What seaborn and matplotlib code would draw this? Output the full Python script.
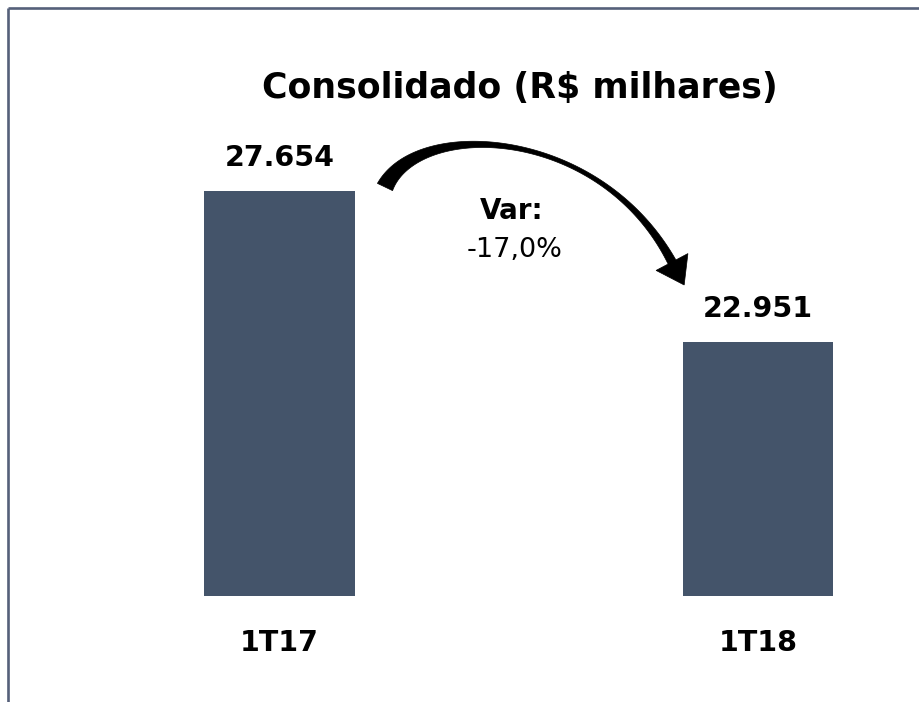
import numpy as np
import pandas as pd
import matplotlib
matplotlib.use("Agg")
import matplotlib.pyplot as plt
import seaborn as sns
from matplotlib.patches import Polygon
from matplotlib.lines import Line2D

# ---- data ----
categories = ["1T17", "1T18"]
values = [27654, 22951]
value_labels = ["27.654", "22.951"]
title_text = "Consolidado (R$ milhares)"
var_title = "Var:"
var_value = "-17,0%"

BAR_COLOR = "#44546A"
FRAME_COLOR = "#55607A"

sns.set_theme(style="white")
plt.rcParams['font.family'] = ['DejaVu Sans']

W, H = 920, 702
fig = plt.figure(figsize=(W / 100, H / 100), dpi=100)
fig.patch.set_facecolor("white")

def fx(px):
    return px / W

def fy(py):
    return 1 - py / H

ax = fig.add_axes([0.04359, fy(596), 0.9367, 0.75])
df = pd.DataFrame({"cat": categories, "val": values})
sns.barplot(data=df, x="cat", y="val", color=BAR_COLOR, saturation=1,
            width=0.314, ax=ax, edgecolor="none")
ax.set_xlim(-0.5, 1.3)
ax.set_ylim(15000, 31450)
ax.bar_label(ax.containers[0], labels=value_labels, padding=13.5,
             fontsize=20.5, fontweight="bold", color="black")
ax.set_xlabel("")
ax.set_ylabel("")
ax.set_yticks([])
ax.tick_params(axis="x", length=0, pad=24)
for t in ax.get_xticklabels():
    t.set_fontsize(20.5)
    t.set_fontweight("bold")
    t.set_color("black")
for s in ax.spines.values():
    s.set_visible(False)
ax.patch.set_alpha(0)

# frame
fig.add_artist(Line2D([fx(8), 1.0], [fy(8), fy(8)], transform=fig.transFigure,
                      color=FRAME_COLOR, lw=1.9, solid_capstyle="butt"))
fig.add_artist(Line2D([fx(8), fx(8)], [fy(8), 0.0], transform=fig.transFigure,
                      color=FRAME_COLOR, lw=1.9, solid_capstyle="butt"))

# title
fig.text(fx(520), fy(88), title_text, ha="center", va="center",
         fontsize=25, fontweight="bold", color="black")

# variation text
fig.text(fx(512), fy(211), var_title, ha="center", va="center",
         fontsize=20, fontweight="bold", color="black")
fig.text(fx(515), fy(250), var_value, ha="center", va="center",
         fontsize=19.5, color="black")

# curved tapered arrow (pixel coords, y from top)
P0 = np.array([385.0, 187.0])
P1 = np.array([418.0, 118.0])
P2 = np.array([600.0, 126.0])
P3 = np.array([672.0, 262.0])
t = np.linspace(0, 1, 160)[:, None]
B = (1 - t) ** 3 * P0 + 3 * (1 - t) ** 2 * t * P1 + 3 * (1 - t) * t ** 2 * P2 + t ** 3 * P3
D = 3 * (1 - t) ** 2 * (P1 - P0) + 6 * (1 - t) * t * (P2 - P1) + 3 * t ** 2 * (P3 - P2)
D = D / np.linalg.norm(D, axis=1, keepdims=True)
N = np.column_stack([-D[:, 1], D[:, 0]])
tt = t[:, 0]
w = 15 * (1 - tt) ** 2.5 + 1.8 + 7 * tt ** 4
left = B + N * (w[:, None] / 2)
right = B - N * (w[:, None] / 2)
d_end = D[-1]
n_end = N[-1]
head_l = P3 + n_end * 18
head_r = P3 - n_end * 18
tip = P3 + d_end * 26
pts = np.vstack([left, [head_l, tip, head_r], right[::-1]])
pts_fig = np.column_stack([pts[:, 0] / W, 1 - pts[:, 1] / H])
fig.add_artist(Polygon(pts_fig, closed=True, transform=fig.transFigure,
                       facecolor="black", edgecolor="black", lw=0.5))

fig.savefig("out.png", dpi=100)
